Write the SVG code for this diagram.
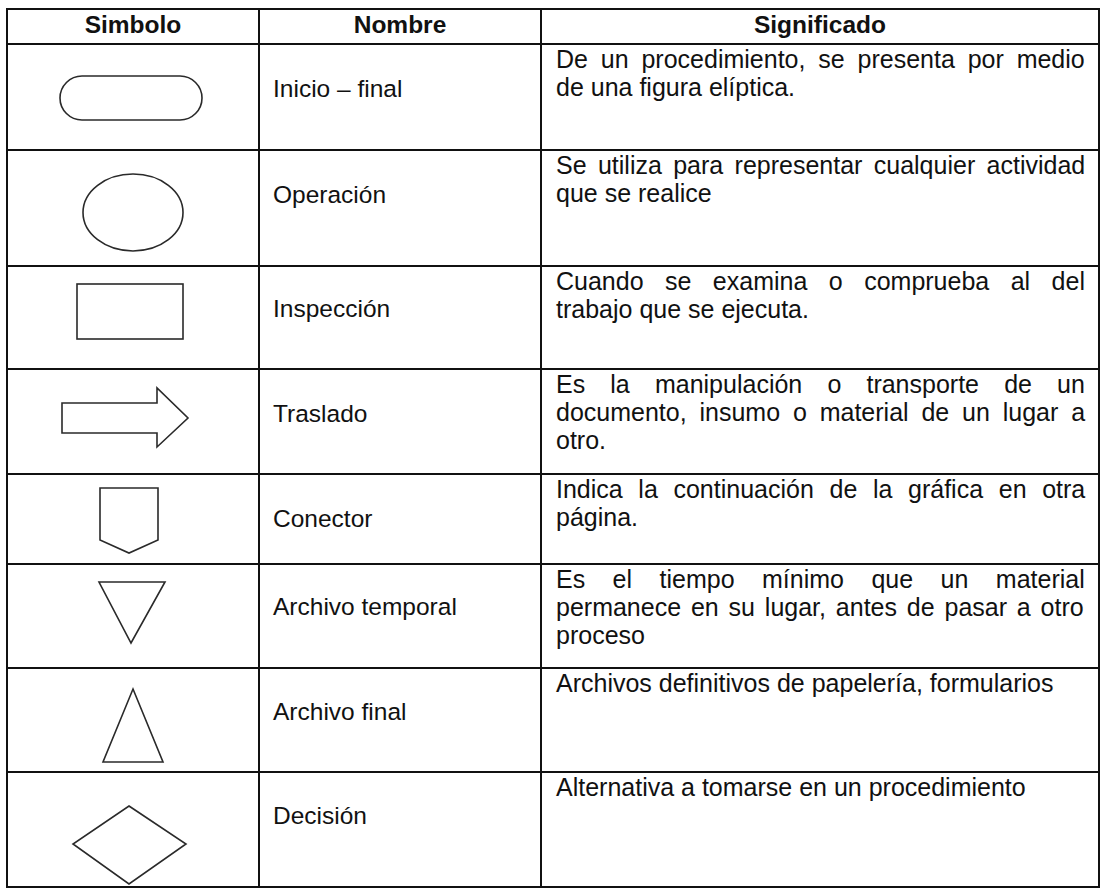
<svg xmlns="http://www.w3.org/2000/svg" width="1102" height="888" viewBox="0 0 1102 888">
<style>
  .bg { fill: #ffffff; }
  .grid { stroke: #111111; stroke-width: 2; fill: none; }
  .sym { stroke: #2a2a2a; stroke-width: 1.6; fill: none; stroke-linejoin: miter; }
  .hdr { font-family: "Liberation Sans", Arial, sans-serif; font-size: 24.5px; font-weight: bold; fill: #111111; text-anchor: middle; }
  .name { font-family: "Liberation Sans", Arial, sans-serif; font-size: 24.5px; fill: #111111; }
  .desc { font-family: "Liberation Sans", Arial, sans-serif; font-size: 25px; fill: #111111; }
</style>
<rect class="bg" x="0" y="0" width="1102" height="888"/>

<g id="table-grid">
  <rect class="grid" x="7" y="9" width="1092" height="878"/>
  <line class="grid" x1="259" y1="9" x2="259" y2="887"/>
  <line class="grid" x1="541" y1="9" x2="541" y2="887"/>
  <line class="grid" x1="7" y1="44" x2="1099" y2="44"/>
  <line class="grid" x1="7" y1="150" x2="1099" y2="150"/>
  <line class="grid" x1="7" y1="266" x2="1099" y2="266"/>
  <line class="grid" x1="7" y1="369" x2="1099" y2="369"/>
  <line class="grid" x1="7" y1="474" x2="1099" y2="474"/>
  <line class="grid" x1="7" y1="564" x2="1099" y2="564"/>
  <line class="grid" x1="7" y1="668" x2="1099" y2="668"/>
  <line class="grid" x1="7" y1="772" x2="1099" y2="772"/>
</g>

<g id="header">
  <text class="hdr" x="133" y="33">Simbolo</text>
  <text class="hdr" x="400" y="33">Nombre</text>
  <text class="hdr" x="820" y="33">Significado</text>
</g>

<g id="row-inicio-final">
  <rect class="sym" x="60" y="76" width="142" height="44" rx="22" ry="22"/>
  <text class="name" x="273" y="97">Inicio – final</text>
  <text class="desc" x="556" y="68" word-spacing="5.9">De un procedimiento, se presenta por medio</text>
  <text class="desc" x="556" y="96">de una figura elíptica.</text>
</g>

<g id="row-operacion">
  <ellipse class="sym" cx="133" cy="212.5" rx="50" ry="38.5"/>
  <text class="name" x="273" y="203">Operación</text>
  <text class="desc" x="556" y="174" word-spacing="4.4">Se utiliza para representar cualquier actividad</text>
  <text class="desc" x="556" y="202">que se realice</text>
</g>

<g id="row-inspeccion">
  <rect class="sym" x="77" y="284" width="106" height="55"/>
  <text class="name" x="273" y="317">Inspección</text>
  <text class="desc" x="556" y="290" word-spacing="14.5">Cuando se examina o comprueba al del</text>
  <text class="desc" x="556" y="318">trabajo que se ejecuta.</text>
</g>

<g id="row-traslado">
  <polygon class="sym" points="62,403 157,403 157,388 188,418 157,447 157,433 62,433"/>
  <text class="name" x="273" y="422">Traslado</text>
  <text class="desc" x="556" y="393" word-spacing="18.2">Es la manipulación o transporte de un</text>
  <text class="desc" x="556" y="421" word-spacing="5.9">documento, insumo o material de un lugar a</text>
  <text class="desc" x="556" y="449">otro.</text>
</g>

<g id="row-conector">
  <polygon class="sym" points="100,488 158,488 158,540 129,553 100,540"/>
  <text class="name" x="273" y="527">Conector</text>
  <text class="desc" x="556" y="498" word-spacing="8.7">Indica la continuación de la gráfica en otra</text>
  <text class="desc" x="556" y="526">página.</text>
</g>

<g id="row-archivo-temporal">
  <polygon class="sym" points="99,582 165,582 131,643"/>
  <text class="name" x="273" y="615">Archivo temporal</text>
  <text class="desc" x="556" y="588" word-spacing="20.5">Es el tiempo mínimo que un material</text>
  <text class="desc" x="556" y="616" word-spacing="2.9">permanece en su lugar, antes de pasar a otro</text>
  <text class="desc" x="556" y="644">proceso</text>
</g>

<g id="row-archivo-final">
  <polygon class="sym" points="133,689 163,762 103,762"/>
  <text class="name" x="273" y="720">Archivo final</text>
  <text class="desc" x="556" y="692">Archivos definitivos de papelería, formularios</text>
</g>

<g id="row-decision">
  <polygon class="sym" points="129,806 186,844 129,884 73,844"/>
  <text class="name" x="273" y="824">Decisión</text>
  <text class="desc" x="556" y="796">Alternativa a tomarse en un procedimiento</text>
</g>
</svg>
